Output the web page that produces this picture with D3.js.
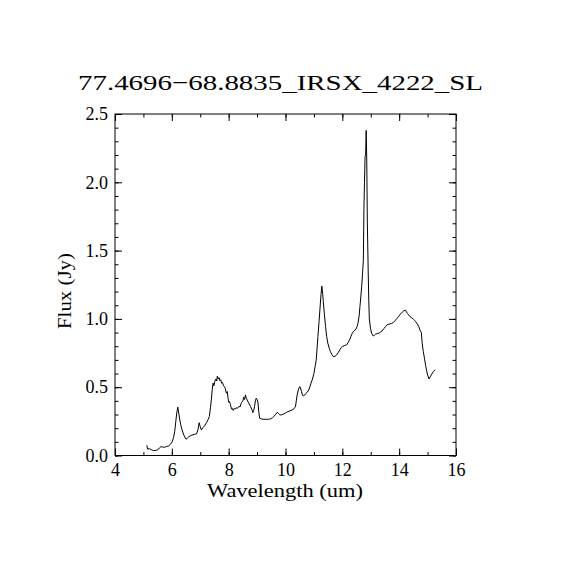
<!DOCTYPE html>
<html>
<head>
<meta charset="utf-8">
<script src="https://cdn.jsdelivr.net/npm/d3@7"></script>
<style>
	body { margin: 0; background: #fff; }
	text { font-family: "Liberation Serif", "DejaVu Serif", serif; fill: #000; }
</style>
</head>
<body>
<svg id="chart" width="570" height="570"></svg>
<script>
var TITLE = "77.4696\u221268.8835_IRSX_4222_SL";
var X_LABEL = "Wavelength (um)";
var Y_LABEL = "Flux (Jy)";

var xTicks = [4, 6, 8, 10, 12, 14, 16];
var yTicks = [0, 0.5, 1.0, 1.5, 2.0, 2.5];

// spectrum
var wavelength = [
	5.12, 5.15, 5.22, 5.30, 5.36, 5.45, 5.50, 5.56, 5.62, 5.68, 5.74, 5.82, 5.89, 5.95,
	6.01, 6.06, 6.10, 6.14, 6.18, 6.21, 6.25, 6.28, 6.32, 6.36, 6.42, 6.50, 6.55, 6.60,
	6.66, 6.71, 6.80, 6.87, 6.92, 6.96, 7.00, 7.04, 7.10, 7.15, 7.22, 7.28, 7.32, 7.36,
	7.39, 7.42, 7.45, 7.48, 7.51, 7.55, 7.58, 7.60, 7.63, 7.66, 7.69, 7.72, 7.75, 7.78,
	7.82, 7.85, 7.88, 7.92, 7.95, 7.98, 8.00, 8.03, 8.06, 8.10, 8.13, 8.16, 8.20, 8.24,
	8.27, 8.31, 8.36, 8.40, 8.45, 8.50, 8.53, 8.56, 8.59, 8.62, 8.65, 8.70, 8.77, 8.82,
	8.85, 8.88, 8.91, 8.94, 8.97, 9.00, 9.03, 9.06, 9.09, 9.18, 9.30, 9.40, 9.47, 9.54,
	9.59, 9.65, 9.71, 9.76, 9.80, 9.86, 9.92, 10.00, 10.08, 10.16, 10.24, 10.30, 10.35,
	10.38, 10.41, 10.45, 10.50, 10.53, 10.56, 10.60, 10.64, 10.70, 10.76, 10.82, 10.90,
	10.95, 11.00, 11.05, 11.08, 11.11, 11.14, 11.18, 11.21, 11.25, 11.28, 11.31, 11.33,
	11.37, 11.41, 11.45, 11.49, 11.54, 11.58, 11.63, 11.68, 11.74, 11.80, 11.86, 11.91,
	11.96, 12.00, 12.08, 12.15, 12.20, 12.25, 12.30, 12.35, 12.40, 12.46, 12.52, 12.55,
	12.59, 12.62, 12.65, 12.68, 12.71, 12.74, 12.76, 12.78, 12.80, 12.82, 12.84, 12.86,
	12.88, 12.91, 12.93, 12.95, 12.99, 13.03, 13.09, 13.13, 13.17, 13.23, 13.29, 13.35,
	13.40, 13.46, 13.52, 13.58, 13.64, 13.72, 13.79, 13.86, 13.93, 13.99, 14.05, 14.11,
	14.17, 14.22, 14.26, 14.29, 14.33, 14.38, 14.44, 14.50, 14.54, 14.58, 14.64, 14.69,
	14.73, 14.78, 14.81, 14.85, 14.89, 14.93, 14.96, 15.00, 15.05, 15.09, 15.13, 15.20,
	15.27
];
var flux = [
	0.075, 0.046, 0.050, 0.040, 0.036, 0.038, 0.041, 0.055, 0.065, 0.062, 0.060, 0.066, 0.070, 0.082,
	0.100, 0.130, 0.175, 0.250, 0.320, 0.354, 0.300, 0.260, 0.220, 0.187, 0.150, 0.119, 0.128, 0.138,
	0.145, 0.150, 0.155, 0.158, 0.190, 0.240, 0.210, 0.187, 0.205, 0.217, 0.240, 0.265, 0.285, 0.350,
	0.407, 0.480, 0.530, 0.510, 0.540, 0.560, 0.545, 0.580, 0.560, 0.570, 0.548, 0.555, 0.530, 0.535,
	0.510, 0.505, 0.490, 0.456, 0.468, 0.420, 0.390, 0.395, 0.375, 0.340, 0.345, 0.330, 0.346, 0.340,
	0.350, 0.345, 0.360, 0.355, 0.387, 0.400, 0.427, 0.410, 0.444, 0.420, 0.407, 0.385, 0.358, 0.335,
	0.314, 0.330, 0.358, 0.400, 0.419, 0.410, 0.390, 0.320, 0.273, 0.266, 0.265, 0.265, 0.268, 0.276,
	0.285, 0.300, 0.317, 0.305, 0.297, 0.298, 0.302, 0.312, 0.321, 0.327, 0.334, 0.342, 0.358,
	0.400, 0.444, 0.480, 0.504, 0.495, 0.470, 0.440, 0.436, 0.451, 0.462, 0.480, 0.530,
	0.560, 0.600, 0.660, 0.700, 0.780, 0.870, 0.980, 1.066, 1.180, 1.240, 1.180, 1.127,
	1.030, 0.944, 0.870, 0.822, 0.785, 0.761, 0.740, 0.724, 0.726, 0.736, 0.755, 0.773,
	0.790, 0.797, 0.805, 0.810, 0.825, 0.845, 0.870, 0.895, 0.910, 0.919, 0.944, 0.968,
	1.020, 1.090, 1.160, 1.236, 1.330, 1.430, 1.810, 2.000, 2.190, 2.200, 2.380, 2.150,
	1.710, 1.350, 1.140, 1.000, 0.932, 0.895, 0.875, 0.880, 0.888, 0.893, 0.895, 0.905,
	0.912, 0.928, 0.944, 0.958, 0.961, 0.966, 0.973, 0.988, 1.005, 1.020, 1.037, 1.050,
	1.061, 1.064, 1.050, 1.040, 1.030, 1.017, 1.008, 0.998, 0.990, 0.980, 0.963, 0.944,
	0.919, 0.900, 0.822, 0.760, 0.712, 0.660, 0.627, 0.590, 0.560, 0.575, 0.590, 0.614,
	0.627
];

var plotLeft = 115, plotRight = 456, plotTop = 114, plotBottom = 455.5;
var MAJOR = 7, MINOR = 3.5;

var svg = d3.select("#chart");

var x = d3.scaleLinear().domain([4, 16]).range([plotLeft, plotRight]);
var y = d3.scaleLinear().domain([0, 2.5]).range([plotBottom, plotTop]);

/*
Draw one side of the frame: minor ticks first, then major ticks with labels
*/
function drawAxis(axisFn, scale, pos, majors, minors, labels) {
	var g = svg.append("g").attr("transform", pos);
	g.call(axisFn(scale).tickValues(minors).tickSize(-MINOR).tickFormat(""));
	g.select(".domain").remove();
	g.selectAll("line").attr("stroke", "#000");
	var g2 = svg.append("g").attr("transform", pos);
	g2.call(axisFn(scale).tickValues(majors).tickSize(-MAJOR).tickFormat(labels ? labels : ""));
	g2.select(".domain").remove();
	g2.selectAll("line").attr("stroke", "#000");
	g2.selectAll("text").attr("font-size", 18).attr("font-family", null);
	return g2;
}

var xMinor = d3.range(4, 16.01, 1);
var yMinor = d3.range(0, 26).map(function(i) { return i / 10; });

var gx = drawAxis(d3.axisBottom, x, "translate(0," + plotBottom + ")", xTicks, xMinor, d3.format("d"));
gx.selectAll("text").attr("dy", null).attr("y", 20);
drawAxis(d3.axisTop, x, "translate(0," + plotTop + ")", xTicks, xMinor, null);
var gy = drawAxis(d3.axisLeft, y, "translate(" + plotLeft + ",0)", yTicks, yMinor, d3.format(".1f"));
gy.selectAll("text").attr("x", -7).attr("dy", "0.32em");
drawAxis(d3.axisRight, y, "translate(" + plotRight + ",0)", yTicks, yMinor, null);

// frame
svg.append("rect")
	.attr("x", plotLeft).attr("y", plotTop)
	.attr("width", plotRight - plotLeft).attr("height", plotBottom - plotTop)
	.attr("fill", "none").attr("stroke", "#000").attr("stroke-width", 1);

// spectrum
var line = d3.line()
	.x(function(d, i) { return x(wavelength[i]); })
	.y(function(d) { return y(d); });

svg.append("path")
	.datum(flux)
	.attr("d", line)
	.attr("fill", "none")
	.attr("stroke", "#000")
	.attr("stroke-width", 1);

// texts
svg.append("text")
	.attr("x", 280.5).attr("y", 90)
	.attr("text-anchor", "middle")
	.attr("font-size", 22)
	.attr("textLength", 405)
	.attr("lengthAdjust", "spacingAndGlyphs")
	.text(TITLE);

svg.append("text")
	.attr("x", 285).attr("y", 497)
	.attr("text-anchor", "middle")
	.attr("font-size", 18)
	.attr("textLength", 156)
	.attr("lengthAdjust", "spacingAndGlyphs")
	.text(X_LABEL);

svg.append("text")
	.attr("transform", "translate(71,291) rotate(-90)")
	.attr("text-anchor", "middle")
	.attr("font-size", 18)
	.attr("textLength", 76)
	.attr("lengthAdjust", "spacingAndGlyphs")
	.text(Y_LABEL);
</script>
</body>
</html>
